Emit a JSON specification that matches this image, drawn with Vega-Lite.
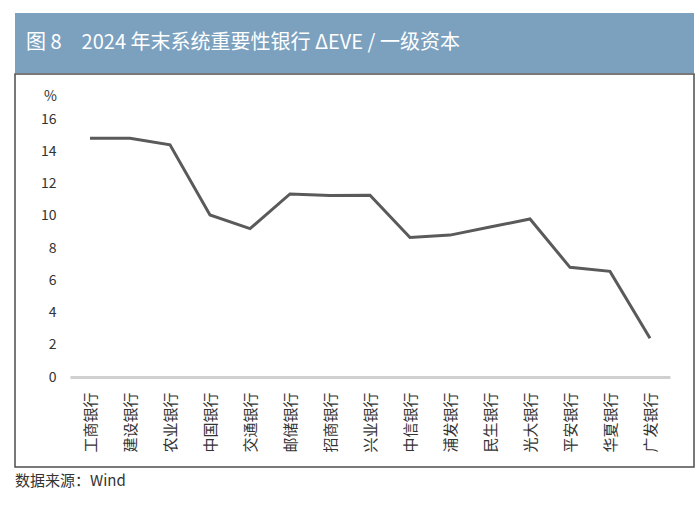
{
  "$schema": "https://vega.github.io/schema/vega-lite/v6.json",
  "background": "white",
  "padding": {"left": 14, "top": 13, "right": 0, "bottom": 0},
  "spacing": 0,
  "config": {"font": "Noto Sans CJK SC"},
  "vconcat": [
    {
      "width": 679,
      "height": 60,
      "view": {"fill": "#7BA1BF", "stroke": null},
      "data": {"values": [{}]},
      "mark": {
        "type": "text",
        "text": "图 8　2024 年末系统重要性银行 ΔEVE / 一级资本",
        "x": 11,
        "y": 30,
        "align": "left",
        "baseline": "middle",
        "fontSize": 20,
        "color": "white",
        "font": "Noto Sans CJK SC"
      },
      "encoding": {}
    },
    {
      "width": 679,
      "height": 393,
      "view": {"stroke": "#4d4d4d", "strokeWidth": 1.5, "fill": "white"},
      "title": {
        "text": "数据来源：Wind",
        "orient": "bottom",
        "anchor": "start",
        "frame": "group",
        "offset": 7,
        "baseline": "top",
        "fontSize": 15,
        "fontWeight": "normal",
        "color": "#333333",
        "font": "Noto Sans CJK SC"
      },
      "data": {
        "values": [
          {"bank": "工商银行", "value": 14.8},
          {"bank": "建设银行", "value": 14.8},
          {"bank": "农业银行", "value": 14.4},
          {"bank": "中国银行", "value": 10.05},
          {"bank": "交通银行", "value": 9.2},
          {"bank": "邮储银行", "value": 11.35},
          {"bank": "招商银行", "value": 11.25},
          {"bank": "兴业银行", "value": 11.27},
          {"bank": "中信银行", "value": 8.65},
          {"bank": "浦发银行", "value": 8.8},
          {"bank": "民生银行", "value": 9.3},
          {"bank": "光大银行", "value": 9.8},
          {"bank": "平安银行", "value": 6.8},
          {"bank": "华夏银行", "value": 6.55},
          {"bank": "广发银行", "value": 2.4}
        ]
      },
      "mark": {"type": "line", "color": "#5a5a5a", "strokeWidth": 3},
      "encoding": {
        "x": {
          "field": "bank",
          "type": "nominal",
          "sort": null,
          "scale": {"type": "point", "range": [55, 655], "padding": 0.5},
          "axis": {
            "title": null,
            "orient": "bottom",
            "offset": -90,
            "domainColor": "#d0d0d0",
            "domainWidth": 3,
            "ticks": false,
            "tickSize": 0,
            "grid": false,
            "labelAngle": -90,
            "labelPadding": 15,
            "labelFontSize": 15,
            "labelColor": "#333333",
            "labelFont": "Noto Sans CJK SC"
          }
        },
        "y": {
          "field": "value",
          "type": "quantitative",
          "scale": {"domain": [0, 16], "range": [303, 45], "nice": false},
          "axis": {
            "title": "%",
            "titleAngle": 0,
            "titleX": -6,
            "titleY": 22,
            "titleAlign": "center",
            "titleBaseline": "middle",
            "titleFontSize": 14,
            "titleFontWeight": "normal",
            "titleColor": "#333333",
            "titleFont": "Noto Sans CJK SC",
            "offset": -41,
            "domain": false,
            "ticks": false,
            "tickSize": 0,
            "labelPadding": 0,
            "grid": false,
            "values": [0, 2, 4, 6, 8, 10, 12, 14, 16],
            "labelFontSize": 14,
            "labelColor": "#333333",
            "labelFont": "Noto Sans CJK SC"
          }
        }
      }
    }
  ]
}
